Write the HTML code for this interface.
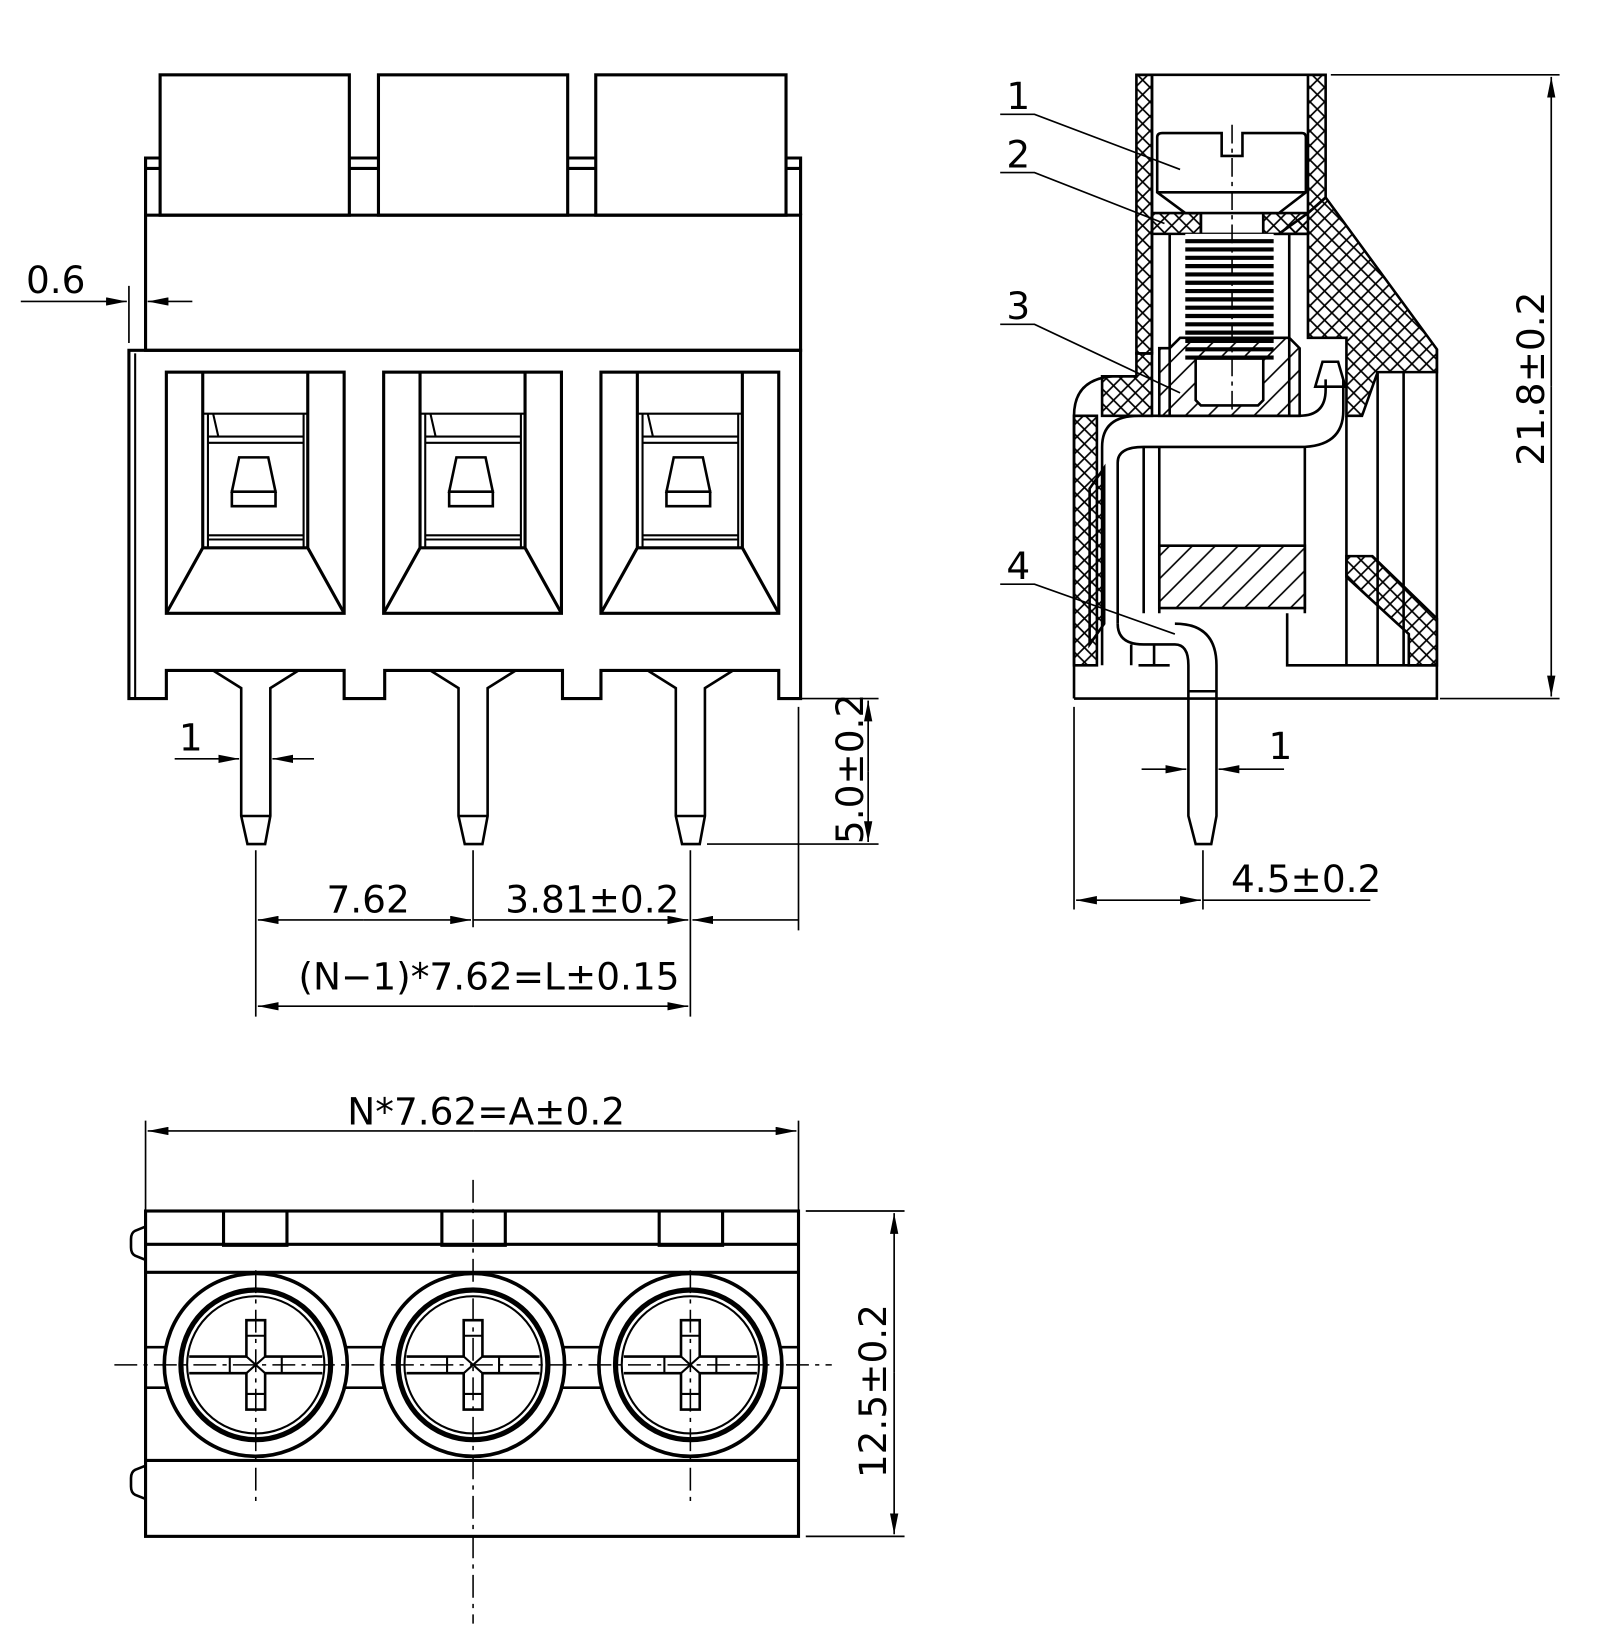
<!DOCTYPE html>
<html><head><meta charset="utf-8"><style>
html,body{margin:0;padding:0;background:#fff;}
svg{display:block}
text{font-family:"DejaVu Sans","Liberation Sans",sans-serif;font-size:36px;fill:#000}
</style></head><body>
<svg width="1597" height="1632" viewBox="0 0 1536 1570" preserveAspectRatio="none" xmlns="http://www.w3.org/2000/svg">
<defs>
<pattern id="xh" width="14" height="14" patternUnits="userSpaceOnUse"><path d="M0,0L14,14M14,0L0,14" stroke="#000" stroke-width="1.6"/></pattern>
<pattern id="dh" width="22" height="22" patternUnits="userSpaceOnUse"><path d="M0,22L22,0M-5,5L5,-5M17,27L27,17" stroke="#000" stroke-width="1.6"/></pattern>
<marker id="a" viewBox="0 0 20 8" refX="20" refY="4" markerWidth="20" markerHeight="8" orient="auto-start-reverse" markerUnits="userSpaceOnUse"><path d="M0,0L20,4L0,8z" fill="#000"/></marker>
</defs>
<g fill="none" stroke="#000" stroke-width="3">
<!-- FRONT VIEW -->
<rect x="154" y="72" width="182" height="135"/><rect x="364" y="72" width="182" height="135"/><rect x="573" y="72" width="183" height="135"/>
<path d="M140,207V152h14M140,162h14M336,152h28M336,162h28M546,152h27M546,162h27M756,152h14v55M756,162h14"/>
<rect x="140" y="207" width="630" height="130"/>
<path d="M124,337H770V672H749V645H578V672H541V645H370V672H331V645H160V672H124Z"/>
<path d="M130,340V672" stroke-width="2"/>
<g id="w">
<rect x="160" y="358" width="171" height="232"/>
<path d="M195,358V527M296,358V527M195,527H296M195,527L160,590M296,527L331,590"/>
<path d="M195,398H296M200,398V527M292,398V527M200,420H292M200,426H292M205,398L210,420M200,515H292M200,519H292" stroke-width="2"/>
<path d="M230,440H258L265,473H223Z M223,473H265V487H223Z" stroke-width="2.5"/>
<path d="M205,645L232,662V785L238,812H255L260,785V662L287,645M232,785H260" stroke-width="2.5"/>
</g>
<use href="#w" x="209"/><use href="#w" x="418"/>
<!-- front dims -->
<g stroke-width="1.6">
<path d="M124,275V330M20,290H122" marker-end="url(#a)"/><path d="M185,290H142" marker-end="url(#a)"/>
<path d="M168,730H230" marker-end="url(#a)"/><path d="M302,730H262" marker-end="url(#a)"/>
<path d="M770,672H845M680,812H845"/>
<path d="M835,742V674" marker-end="url(#a)"/><path d="M835,742V810" marker-end="url(#a)"/>
<path d="M246,818V978M455,818V892M664,818V978M768,680V895"/>
<path d="M350,885H248" marker-end="url(#a)"/><path d="M350,885H453" marker-end="url(#a)"/>
<path d="M455,885H662" marker-end="url(#a)"/><path d="M768,885H666" marker-end="url(#a)"/>
<path d="M455,968H248" marker-end="url(#a)"/><path d="M455,968H662" marker-end="url(#a)"/>
</g>
<!-- SIDE VIEW -->
<g stroke-width="2.5">
<path d="M1093,72V340H1108V72ZM1258,72H1275V190L1258,205Z" fill="url(#xh)"/>
<path d="M1275,190L1382,336V358H1325L1310,400H1295V325H1258V225H1230L1258,205Z" fill="url(#xh)"/>
<path d="M1108,205H1155V225H1108ZM1215,205H1258V225H1215Z" fill="url(#xh)"/>
<path d="M1060,362H1093V340H1108V400H1060Z" fill="url(#xh)"/>
<path d="M1033,400H1055V640H1033Z M1048,470L1062,450V600L1048,620Z" fill="url(#xh)"/>
<path d="M1295,535H1320L1382,595V640H1355V610L1295,555Z" fill="url(#xh)"/>
<path d="M1093,72H1275M1033,672H1382V336M1033,672V400Q1033,365 1070,362H1093M1108,72V340"/>
<path d="M1113,132Q1113,128 1118,128H1175V150H1195V128H1252Q1256,128 1256,132V185L1230,205H1140L1113,185Z" fill="#fff"/>
<path d="M1113,185H1256"/>
<path d="M1155,205V225H1215V205"/>
<path d="M1125,225V400M1240,225V400"/>
<rect x="1140" y="225" width="85" height="125" fill="#fff" stroke-width="0"/>
<path d="M1140,232H1225M1140,240H1225M1140,248H1225M1140,256H1225M1140,264H1225M1140,272H1225M1140,280H1225M1140,288H1225M1140,296H1225M1140,304H1225M1140,312H1225M1140,320H1225M1140,328H1225M1140,336H1225M1140,344H1225" stroke-width="4"/>
<path d="M1125,335L1135,325H1240L1250,335V400H1115V335Z" fill="url(#dh)"/>
<path d="M1150,345H1215V385L1210,390H1155L1150,385Z" fill="#fff"/>
<path d="M1185,120V395" stroke-width="1.5" stroke-dasharray="18,5,4,5"/>
<path d="M1060,640V430Q1060,400 1095,400H1250Q1275,400 1275,375V365M1075,600V445Q1075,430 1100,430H1250Q1292,430 1292,395V365" />
<path d="M1265,372L1272,348H1287L1294,372Z"/>
<path d="M1100,430V590M1115,430V590M1255,430V590M1238,590V640H1295V400M1325,358V640M1350,358V640M1295,640H1382"/>
<path d="M1115,525H1255V585H1115Z" fill="url(#dh)"/>
<path d="M1075,600Q1075,620 1100,620H1130Q1143,620 1143,640V785L1150,812H1165L1170,785V640Q1170,600 1130,600"/>
<path d="M1143,665H1170M1088,620V640M1110,620V640M1095,640H1125"/>
</g>
<!-- side dims & labels -->
<g stroke-width="1.6">
<path d="M1280,72H1500M1385,672H1500"/>
<path d="M1492,372V74" marker-end="url(#a)"/><path d="M1492,372V670" marker-end="url(#a)"/>
<path d="M1033,680V875M1157,818V875"/>
<path d="M1095,866H1035" marker-end="url(#a)"/><path d="M1095,866H1155" marker-end="url(#a)"/>
<path d="M1157,866H1318"/>
<path d="M1098,740H1141" marker-end="url(#a)"/><path d="M1235,740H1172" marker-end="url(#a)"/>
<path d="M962,110H995L1135,163M962,166H995L1120,215M962,312H995L1135,378M962,562H995L1130,610"/>
</g>
<!-- BOTTOM VIEW -->
<g stroke-width="1.6">
<path d="M140,1078V1165M768,1078V1165"/>
<path d="M455,1088H142" marker-end="url(#a)"/><path d="M455,1088H766" marker-end="url(#a)"/>
<path d="M775,1165H870M775,1478H870"/>
<path d="M860,1320V1167" marker-end="url(#a)"/><path d="M860,1320V1476" marker-end="url(#a)"/>
</g>
<rect x="140" y="1165" width="628" height="313"/>
<path d="M140,1197H768M140,1224H768M140,1405H768"/>
<path d="M215,1165V1198H276V1165M425,1165V1198H486V1165M634,1165V1198H695V1165" />
<path d="M140,1180L130,1184Q126,1186 126,1192V1200Q126,1206 130,1208L140,1212M140,1410L130,1414Q126,1416 126,1422V1430Q126,1436 130,1438L140,1442" stroke-width="2.5"/>
<path d="M140,1296H768M140,1335H768" stroke-width="2.5"/>
<g id="c">
<circle cx="246" cy="1313" r="88" fill="#fff" stroke-width="3.5"/>
<circle cx="246" cy="1313" r="72" stroke-width="5"/>
<circle cx="246" cy="1313" r="66" stroke-width="2"/>
<path d="M182,1305H237V1291V1270H255V1305H310M182,1321H237V1356H255V1321H310" fill="none" stroke-width="2.5"/>
<path d="M237,1285H255M237,1341H255M221,1305V1321M271,1305V1321M237,1305L255,1321M255,1305L237,1321" stroke-width="2"/>
</g>
<use href="#c" x="209"/><use href="#c" x="418"/>
<g stroke-width="1.5" stroke-dasharray="22,6,4,6">
<path d="M110,1313H800M455,1135V1562M246,1222V1450M664,1222V1450"/>
</g>
</g>
<!-- TEXT -->
<text x="25" y="282">0.6</text>
<text x="172" y="722">1</text>
<text x="0" y="0" transform="translate(830,812) rotate(-90)">5.0±0.2</text>
<text x="314" y="878">7.62</text>
<text x="486" y="878">3.81±0.2</text>
<text x="287" y="952">(N−1)*7.62=L±0.15</text>
<text x="968" y="105">1</text>
<text x="968" y="161">2</text>
<text x="968" y="307">3</text>
<text x="968" y="557">4</text>
<text x="0" y="0" transform="translate(1485,448) rotate(-90)">21.8±0.2</text>
<text x="1220" y="730">1</text>
<text x="1184" y="858">4.5±0.2</text>
<text x="334" y="1082">N*7.62=A±0.2</text>
<text x="0" y="0" transform="translate(852,1422) rotate(-90)">12.5±0.2</text>
</svg>
</body></html>
